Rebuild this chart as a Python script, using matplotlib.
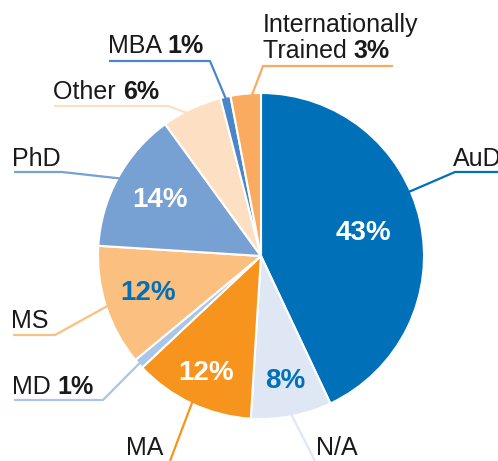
import numpy as np
import matplotlib
matplotlib.use("Agg")
import matplotlib.pyplot as plt

W, H = 498, 461

# slices, clockwise from 12 o'clock
labels = ["AuD", "N/A", "MA", "MD", "MS", "PhD", "Other", "MBA", "Internationally\nTrained"]
shares = [43, 8, 12, 1, 12, 14, 6, 1, 3]
colors = ["#0070b8", "#dfe7f4", "#f7941e", "#a9c5e8", "#fbbf80",
          "#77a0d3", "#fde0c3", "#4a86c8", "#fbab5f"]
show_pct_in_label = [False, False, False, True, False, False, True, True, True]

# percentages printed inside wedges: (slice index, colour, radial fraction)
inner = [(0, "white", 0.645), (1, "#0070b8", 0.78), (2, "white", 0.79),
         (4, "#0070b8", 0.73), (5, "white", 0.71)]

plt.rcParams["font.family"] = ["Liberation Sans", "DejaVu Sans"]

fig = plt.figure(figsize=(W / 100, H / 100), dpi=100)
ax = fig.add_axes([0, 0, 1, 1])

cx, cy, R = 261, H - 256, 163

wedges, _ = ax.pie(shares, colors=colors, startangle=90, counterclock=False,
                   center=(cx, cy), radius=R, frame=True,
                   wedgeprops=dict(edgecolor="white", linewidth=1.5))
ax.set_xlim(0, W)
ax.set_ylim(0, H)
ax.set_aspect("equal")
ax.axis("off")


def mid_angle(i, frac=0.5):
    w = wedges[i]
    return np.deg2rad(w.theta1 + (w.theta2 - w.theta1) * frac)


def edge_point(i, frac=0.5, r=R):
    a = mid_angle(i, frac)
    return cx + r * np.cos(a), cy + r * np.sin(a)


for i, col, f in inner:
    x, y = edge_point(i, r=R * f)
    ax.text(x, y, f"{shares[i]}%", color=col, fontsize=20, fontweight="bold",
            ha="center", va="center")

# leader lines: slice index, anchor fraction inside wedge, bends (pixel layout)
leaders = {
    0: (0.57, [(455, 172), (498, 172)]),
    1: (0.5, [(315, 461)]),
    2: (0.5, [(170, 461)]),
    3: (0.5, [(103, 400), (14, 400)]),
    4: (0.5, [(55, 335), (13, 335)]),
    5: (0.5, [(62, 172), (14, 172)]),
    6: (0.6, [(168, 106), (54, 106)]),
    7: (0.5, [(210, 61), (109, 61)]),
    8: (0.3, [(263, 66), (393, 66)]),
}
for i, (frac, pts) in leaders.items():
    x0, y0 = edge_point(i, frac, R - 2)
    xs = [x0] + [p[0] for p in pts]
    ys = [y0] + [H - p[1] for p in pts]
    ax.plot(xs, ys, color=colors[i], lw=1.6, solid_capstyle="butt", clip_on=False)

# label text positions (left x, baseline y in pixels)
label_pos = {0: (453, 166), 1: (316, 455), 2: (126, 455), 3: (12, 394),
             4: (11, 328), 5: (12, 166), 6: (53, 99), 7: (108, 53), 8: (263, 58)}

fs = 18
fig.canvas.draw()
rend = fig.canvas.get_renderer()
for i, (x, y) in label_pos.items():
    name = labels[i]
    if "\n" in name:
        first, last = name.split("\n")
        ax.text(x, H - 32, first, fontsize=fs, color="#1a1a1a", ha="left", va="baseline")
    else:
        last = name
    t = ax.text(x, H - y, last + (" " if show_pct_in_label[i] else ""), fontsize=fs,
                color="#1a1a1a", ha="left", va="baseline")
    if show_pct_in_label[i]:
        bb = t.get_window_extent(rend)
        x1 = ax.transData.inverted().transform((bb.x1, bb.y0))[0]
        ax.text(x1, H - y, f"{shares[i]}%", fontsize=fs, fontweight="bold",
                color="#1a1a1a", ha="left", va="baseline")

fig.savefig("out.png", dpi=100)
